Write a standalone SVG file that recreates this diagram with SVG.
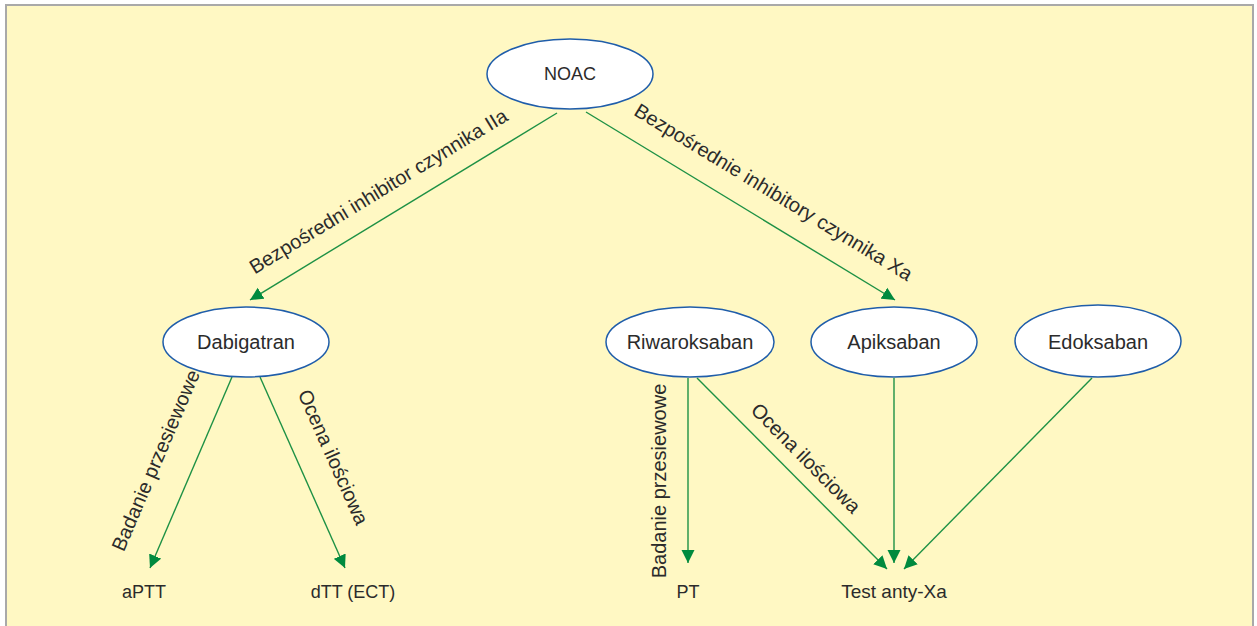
<svg xmlns="http://www.w3.org/2000/svg" width="1257" height="626" viewBox="0 0 1257 626">
<style>
.bg{fill:#FFF8C3;stroke:#A9A9A9;stroke-width:2}
.node ellipse{fill:#FFFFFF;stroke:#1F5DAA;stroke-width:1.5}
text{font-family:"Liberation Sans",Arial,sans-serif;font-size:20px;fill:#2B2B2B}
.c{text-anchor:middle}
.s18{font-size:18px}
.s19{font-size:19px}
.edge{stroke:#1E9145;stroke-width:1.4;fill:none;marker-end:url(#arr)}
</style>
<defs>
<marker id="arr" markerUnits="userSpaceOnUse" markerWidth="14" markerHeight="14" refX="13" refY="7" orient="auto" viewBox="0 0 14 14">
<path d="M0,0.5 L13,7 L0,13.5 z" fill="#008A3E"/>
</marker>
</defs>
<rect class="bg" x="6" y="5" width="1247" height="640"/>
<g id="connectors">
<line class="edge" x1="557" y1="113" x2="250" y2="300"/>
<line class="edge" x1="586" y1="112" x2="895" y2="300"/>
<line class="edge" x1="232" y1="377" x2="150" y2="568"/>
<line class="edge" x1="260" y1="377" x2="345" y2="568"/>
<line class="edge" x1="688" y1="378" x2="688" y2="563"/>
<line class="edge" x1="697" y1="378" x2="887" y2="569"/>
<line class="edge" x1="894" y1="378" x2="894" y2="563"/>
<line class="edge" x1="1092" y1="378" x2="904" y2="569"/>
<text class="c" transform="translate(382,197) rotate(-31.3)">Bezpośredni inhibitor czynnika IIa</text>
<text class="c" transform="translate(770,198) rotate(31.3)">Bezpośrednie inhibitory czynnika Xa</text>
<text class="c" transform="translate(162,463) rotate(-66.8)">Badanie przesiewowe</text>
<text class="c" transform="translate(327,460) rotate(66)">Ocena ilościowa</text>
<text class="c" transform="translate(666,481) rotate(-90)">Badanie przesiewowe</text>
<text class="c" transform="translate(801,463) rotate(45.2)">Ocena ilościowa</text>
</g>
<g id="noac" class="node"><ellipse cx="570" cy="74" rx="83" ry="35"/><text class="c s18" x="570" y="80">NOAC</text></g>
<g id="dabigatran" class="node"><ellipse cx="246" cy="342" rx="83" ry="35"/><text class="c" x="246" y="349">Dabigatran</text></g>
<g id="riwaroksaban" class="node"><ellipse cx="690" cy="342" rx="84" ry="35"/><text class="c" x="690" y="349">Riwaroksaban</text></g>
<g id="apiksaban" class="node"><ellipse cx="894" cy="342" rx="83" ry="35"/><text class="c" x="894" y="349">Apiksaban</text></g>
<g id="edoksaban" class="node"><ellipse cx="1098" cy="341" rx="83" ry="36"/><text class="c" x="1098" y="349">Edoksaban</text></g>
<g id="aptt"><text class="c s18" x="144" y="598">aPTT</text></g>
<g id="dtt"><text class="c s18" x="353" y="598">dTT (ECT)</text></g>
<g id="pt"><text class="c s18" x="688" y="598">PT</text></g>
<g id="antyxa"><text class="c s19" x="894" y="598">Test anty-Xa</text></g>
</svg>
